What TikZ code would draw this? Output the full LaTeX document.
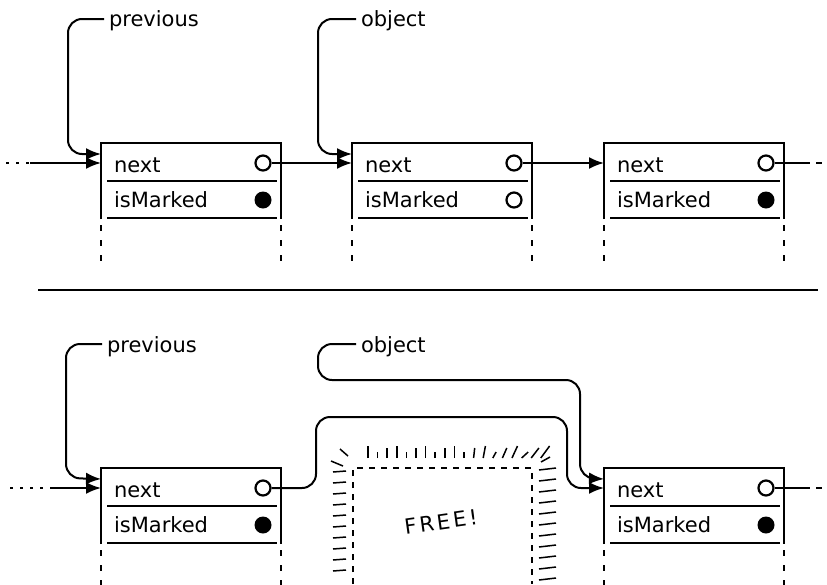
\documentclass[tikz,border=0pt]{standalone}
\usepackage{fontspec}
\setmainfont{DejaVu Sans}
\usetikzlibrary{arrows.meta}
\newcommand\mkbox[4]{%
 \begin{scope}[shift={(#2,#3)}]
  \draw (0,76) -- (0,0) -- (180,0) -- (180,76);
  \draw[line width=1.6pt] (6,38) -- (176,38) (6,75) -- (176,75);
  \draw[tailline] (0,82) -- (0,118) (180,82) -- (180,118);
  \node[lbl] (#1t1) at (12,29) {next};
  \node[lbl] (#1t2) at (12,64) {isMarked};
  \node[markhole] (#1n) at (162,20) {};
  \node[#4] (#1m) at (162,57) {};
  \coordinate (#1in) at (0,20);
  \coordinate (#1pt) at (0,11);
 \end{scope}}
\begin{document}
\begin{tikzpicture}[x=1pt,y=-1pt, line width=2pt,
  lbl/.style={inner sep=0pt, anchor=base west, font=\fontsize{21}{24}\selectfont},
  ptr/.style={-{Latex[length=15pt,width=12pt]}, rounded corners=14pt},
  markhole/.style={circle, draw, line width=2.2pt, minimum size=15pt, inner sep=0pt},
  markfull/.style={circle, fill, minimum size=17pt, inner sep=0pt},
  tailline/.style={dash pattern=on 6pt off 9pt},
  dotline/.style={dash pattern=on 3pt off 7pt},
  hatch/.style={line width=1.5pt}]
\useasboundingbox (0,0) rectangle (827,584);

% ---------- top row ----------
\mkbox{A}{101}{143}{markfull}
\mkbox{B}{352}{143}{markhole}
\mkbox{C}{604}{143}{markfull}

\coordinate (l1s) at (6,163);
\coordinate (l1e) at (30,163);
\draw[dotline] (l1s) -- (l1e);
\draw[ptr] (l1e) -- (Ain);
\draw[ptr] (An.east) -- (Bin);
\draw[ptr] (Bn.east) -- (Cin);
\coordinate (r1e) at (810,163);
\draw (Cn.east) -- (r1e);
\draw (816,163) -- (822,163);

\node[lbl] (prev1) at (108,26) {previous};
\draw[ptr] (104,19) -- (68,19) -- (68,154) -- (Apt);
\node[lbl] (obj1) at (360,26) {object};
\draw[ptr] (356,19) -- (318,19) -- (318,154) -- (Bpt);

% ---------- separator ----------
\coordinate (sepL) at (38,290);
\coordinate (sepR) at (818,290);
\draw (sepL) -- (sepR);

% ---------- bottom row ----------
\mkbox{D}{101}{468}{markfull}
\mkbox{E}{604}{468}{markfull}

\coordinate (l2s) at (10,488);
\coordinate (l2e) at (52,488);
\draw[dotline] (l2s) -- (l2e);
\draw[ptr] (l2e) -- (Din);

\node[lbl] (prev2) at (106,352) {previous};
\draw[ptr] (102,344) -- (66,344) -- (66,478) -- (Dpt);
\node[lbl] (obj2) at (360,352) {object};
\draw[ptr] (356,344) -- (318,344) -- (318,380) -- (580,380) -- (580,478) -- (Ept);
\draw[ptr] (Dn.east) -- (316,488) -- (316,417) -- (567,417) -- (567,488) -- (Ein);
\coordinate (r2e) at (810,488);
\draw (En.east) -- (r2e);
\draw (816,488) -- (822,488);

% ---------- freed node ----------
\draw[dash pattern=on 6pt off 6pt, line width=1.8pt] (353,584) -- (353,468) -- (532,468) -- (532,584);
\node[font=\fontsize{21}{24}\selectfont\addfontfeatures{LetterSpace=14}, rotate=8] (free) at (441,522) {FREE!};
\foreach \i in {0,...,18} {
  \pgfmathsetmacro\hx{368+9.6*\i}
  \pgfmathsetmacro\hs{max(0,\i-10)*1.1}
  \pgfmathsetmacro\hl{mod(\i,3)==1 ? 6 : (mod(\i,3)==2 ? 10 : 12)}
  \draw[hatch] (\hx,458) -- (\hx+\hs,458-\hl);
}
\draw[hatch] (340,449) -- (348,456);
\draw[hatch] (331,461) -- (343,466);
\foreach \y in {472,483,...,580} \draw[hatch] (333,\y) -- (346,\y-1);
\draw[hatch] (541,462) -- (550,457);
\foreach \y in {470,481,...,580} \draw[hatch] (539,\y) -- (556,\y-2);
\end{tikzpicture}
\end{document}
